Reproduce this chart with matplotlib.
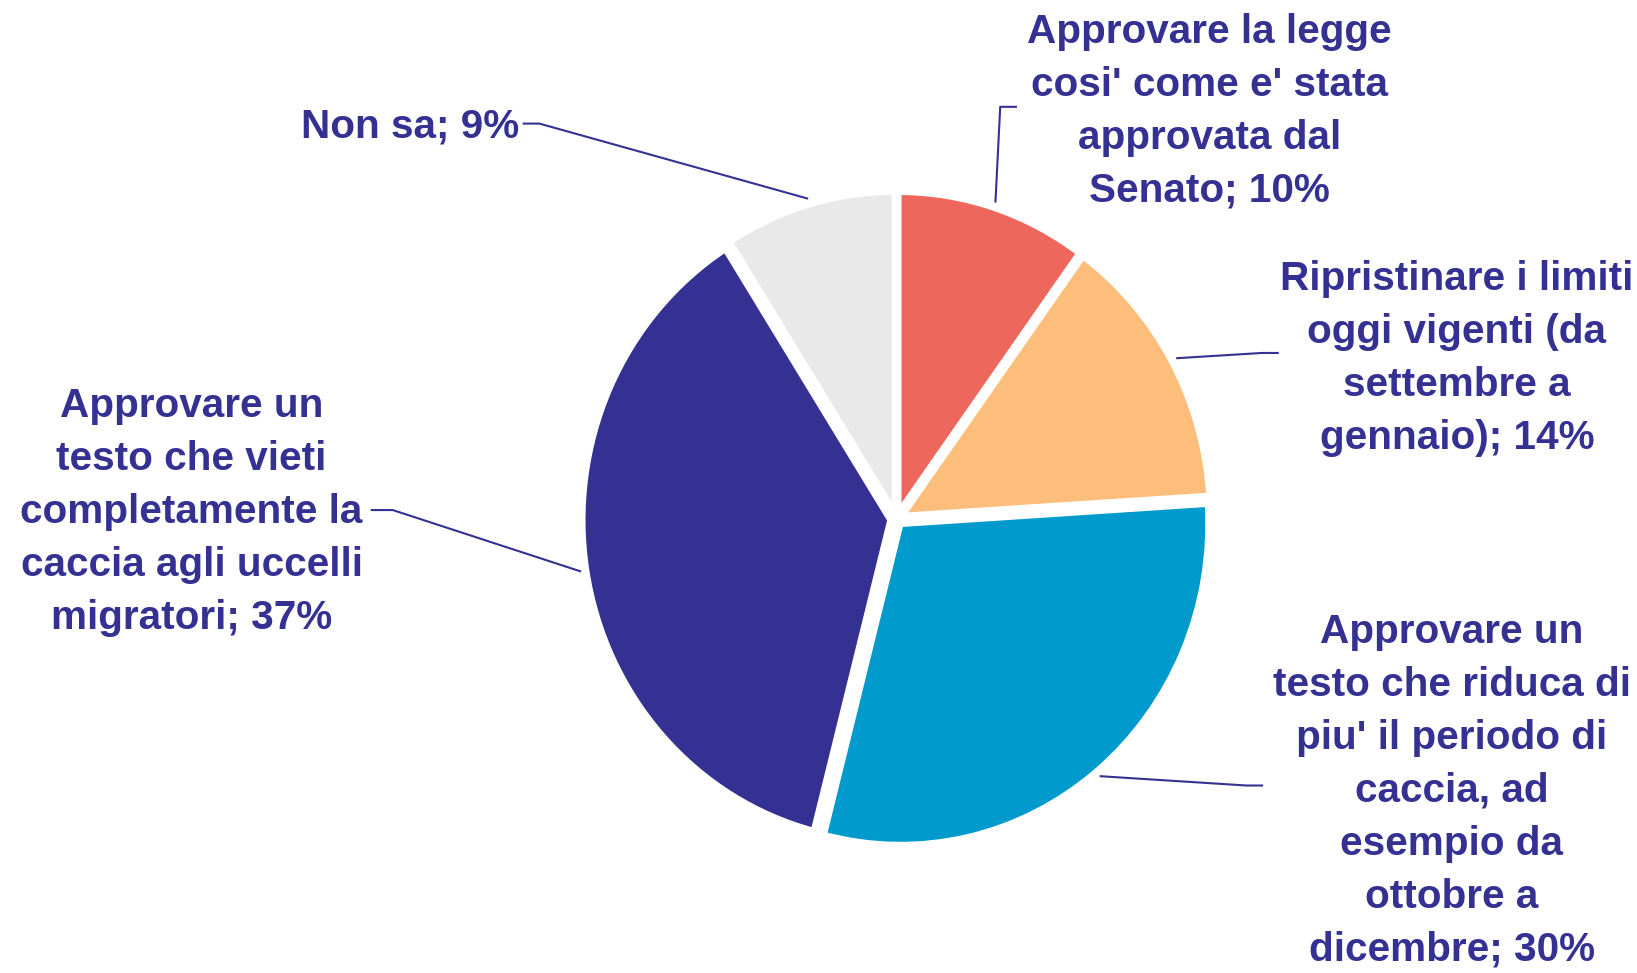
import matplotlib
matplotlib.use("Agg")
import matplotlib.pyplot as plt
import numpy as np

labels = [
    "Approvare la legge\ncosi' come e' stata\napprovata dal\nSenato",
    "Ripristinare i limiti\noggi vigenti (da\nsettembre a\ngennaio)",
    "Approvare un\ntesto che riduca di\npiu' il periodo di\ncaccia, ad\nesempio da\nottobre a\ndicembre",
    "Approvare un\ntesto che vieti\ncompletamente la\ncaccia agli uccelli\nmigratori",
    "Non sa",
]
values = [10, 14, 30, 37, 9]
colors = ["#EE675C", "#FDBE7B", "#009BCC", "#343193", "#E9E9E9"]
text_color = "#343193"

W, H = 1637, 973
K = 1637 / 1563  # layout positions below measured on a 1563-wide view
fig = plt.figure(figsize=(W / 100, H / 100), dpi=100)
cx, cy = 896.5, 519.0
Rx, Ry = 308.0, 321.0
ax = fig.add_axes([(cx - Rx) / W, (H - cy - Ry) / H, 2 * Rx / W, 2 * Ry / H])

wedges, _ = ax.pie(values, colors=colors, startangle=90, counterclock=False,
                   explode=[0.02] * len(values),
                   wedgeprops=dict(edgecolor="white", linewidth=4.5))
ax.set_aspect("auto")
ax.set_xlim(-1, 1)
ax.set_ylim(-1, 1)
ax.axis("off")

def px(x, y):
    return ((x * K - cx) / Rx, (cy - y * K) / Ry)

# label text anchors and leader paths (view coords)
text_pos = [(1155, 106), (1391, 342), (1386, 755), (183, 489), (392, 121)]
leader_pts = [
    [(970, 102), (955, 102)],
    [(1220, 337), (1205, 337)],
    [(1205, 750), (1190, 750)],
    [(355, 487), (375, 487)],
    [(500, 118), (515, 118)],
]

for w, lab, v, tp, lp in zip(wedges, labels, values, text_pos, leader_pts):
    mid = np.deg2rad((w.theta1 + w.theta2) / 2)
    ex, ey = w.center
    r = 1.02
    end = (ex + r * np.cos(mid), ey + r * np.sin(mid))
    pts = [px(*p) for p in lp] + [end]
    xs, ys = zip(*pts)
    ax.plot(xs, ys, color=text_color, lw=1.5, clip_on=False)
    tx, ty = px(*tp)
    ax.text(tx, ty, f"{lab}; {v}%", ha="center", va="center",
            color=text_color, fontsize=29.2, fontweight="bold",
            family=["Liberation Sans", "DejaVu Sans"], linespacing=1.50,
            clip_on=False)

fig.savefig("out.png", dpi=100)
